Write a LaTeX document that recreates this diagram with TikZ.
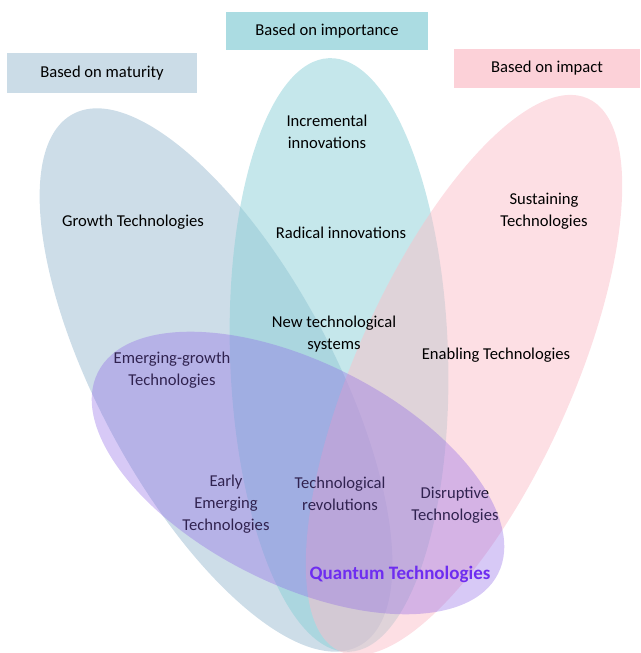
\documentclass[tikz,border=0pt]{standalone}
\usepackage{fontspec}
\setmainfont{Carlito}
\usepackage{tikz}

\definecolor{maturityblue}{RGB}{155,187,209}
\definecolor{importanceteal}{RGB}{139,207,215}
\definecolor{impactpink}{RGB}{251,191,201}
\definecolor{quantumviolet}{RGB}{140,100,230}
\definecolor{quantumtext}{RGB}{110,45,240}

\begin{document}
\begin{tikzpicture}[x=1pt,y=-1pt,
    lbl/.style={align=center,font=\fontsize{16.6}{22}\selectfont,text=black},
    header/.style={lbl,inner sep=0pt},
    petal/.style={fill opacity=0.5}]
    \useasboundingbox (0,0) rectangle (640,653);
    \coordinate (cmat) at (216,380);
    \coordinate (cimp) at (339,355);
    \coordinate (cimc) at (464,375);
    \coordinate (cqua) at (298,473);

    % the three headers
    \node[header,fill=maturityblue!52,minimum width=190pt,minimum height=40pt] (hmat) at (102,73) {Based on maturity};
    \node[header,fill=importanceteal!72,minimum width=202pt,minimum height=38pt] (himp) at (327,31) {Based on importance};
    \node[header,fill=impactpink!72,minimum width=186pt,minimum height=39pt] (himc) at (547,68.5) {Based on impact};

    % petals
    \fill[petal,maturityblue,rotate around={-61.7:(cmat)}] (cmat) ellipse [x radius=302pt, y radius=117pt];
    \fill[petal,importanceteal,rotate around={-88.1:(cimp)}] (cimp) ellipse [x radius=297pt, y radius=109pt];
    \fill[petal,impactpink,rotate around={65.9:(cimc)}] (cimc) ellipse [x radius=303pt, y radius=108pt];

    \node[lbl] (incr) at (327,131.5) {Incremental\\innovations};
    \node[lbl] (growth) at (133,222.5) {Growth Technologies};
    \node[lbl] (radical) at (341,232.5) {Radical innovations};
    \node[lbl] (sustain) at (544,211.5) {Sustaining\\Technologies};
    \node[lbl] (newsys) at (334,334.5) {New technological\\systems};
    \node[lbl] (enabling) at (496,355.5) {Enabling Technologies};
    \node[lbl] (emgrowth) at (172,370.5) {Emerging-growth\\Technologies};
    \node[lbl] (early) at (226,504.5) {Early\\Emerging\\Technologies};
    \node[lbl] (revol) at (340,493.5) {Technological\\revolutions};
    \node[lbl] (disrupt) at (455,505.5) {Disruptive\\Technologies};

    % quantum on top
    \fill[quantumviolet,fill opacity=0.35,rotate around={-26.7:(cqua)}] (cqua) ellipse [x radius=224pt, y radius=111pt];
    \node[lbl,text=quantumtext,font=\fontsize{19}{22}\selectfont\bfseries] (quantum) at (400,574) {Quantum Technologies};
\end{tikzpicture}
\end{document}
